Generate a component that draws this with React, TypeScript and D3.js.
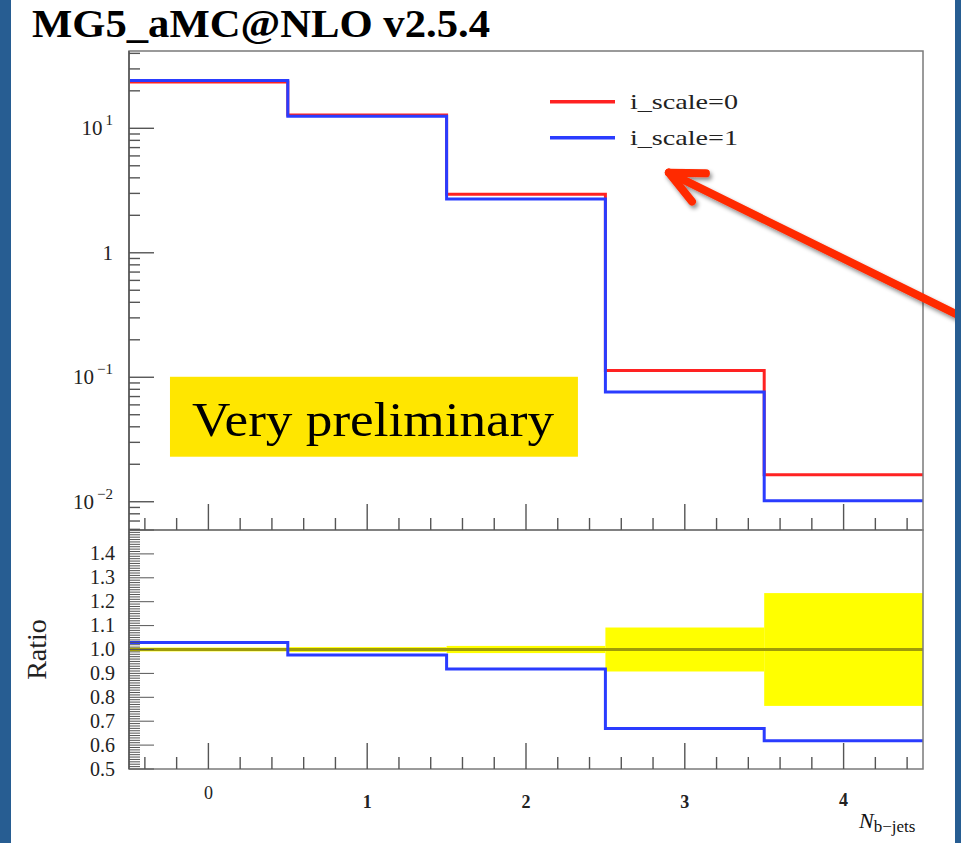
import React from "react";
import * as d3 from "d3";

// Jet-multiplicity distribution for two renormalisation-scale choices
const binCenters = [0, 1, 2, 3, 4];
const xsecScale0 = [23.5, 12.8, 2.95, 0.1135, 0.0165];
const xsecScale1 = [24.2, 12.5, 2.71, 0.076, 0.0102];
// half-width of the uncertainty band around ratio = 1, per bin
const bandHalfWidth = [0.008, 0.01, 0.015, 0.092, 0.236];

const seriesNames = ["i_scale=0", "i_scale=1"];
const xTickValues = [0, 1, 2, 3, 4];
const logTickLabels = [
  { v: 0.01, base: "10", exp: "\u22122" },
  { v: 0.1, base: "10", exp: "\u22121" },
  { v: 1, base: "1", exp: "" },
  { v: 10, base: "10", exp: "1" },
];
const ratioTickLabels = [0.5, 0.6, 0.7, 0.8, 0.9, 1.0, 1.1, 1.2, 1.3, 1.4];

const W = 961;
const H = 843;
const FONT = "'Liberation Serif', 'Times New Roman', serif";
const RED = "#ff2222";
const BLUE = "#2a3cff";
const BORDER = "#275d92";

const left = 129;
const right = 923;
const topY = 51;
const midY = 530;
const bottomY = 769;

// vertical nudges of the x tick labels
const xTickLabelDy = [-9, 0, 0, 0, -2];

export default function App() {
  const x = d3.scaleLinear().domain([-0.5, 4.5]).range([left, right]);
  const y = d3
    .scaleLog()
    .domain([Math.pow(10, -2.227), Math.pow(10, 1.621)])
    .range([midY, topY]);
  const r = d3.scaleLinear().domain([0.5, 1.5]).range([bottomY, midY]);

  const edges = binCenters.map((c) => c - 0.5).concat([binCenters[binCenters.length - 1] + 0.5]);
  const stepPoints = (vals: number[]) =>
    edges.map((e, i) => [e, vals[Math.min(i, vals.length - 1)]] as [number, number]);

  const upperLine = d3
    .line<[number, number]>()
    .x((d) => x(d[0]))
    .y((d) => y(d[1]))
    .curve(d3.curveStepAfter);
  const ratioLine = d3
    .line<[number, number]>()
    .x((d) => x(d[0]))
    .y((d) => r(d[1]))
    .curve(d3.curveStepAfter);

  const ratio1 = xsecScale1.map((v, i) => v / xsecScale0[i]);

  // x ticks every 0.2, majors on integers
  const xTicks = d3.range(-0.4, 4.5, 0.2).map((v) => Math.round(v * 10) / 10);

  // log minor ticks
  const logTicks: { v: number; major: boolean }[] = [];
  const [ylo, yhi] = y.domain();
  for (let dec = -3; dec <= 1; dec++) {
    for (let m = 1; m <= 9; m++) {
      const v = m * Math.pow(10, dec);
      if (v >= ylo && v <= yhi) logTicks.push({ v, major: m === 1 });
    }
  }

  const ratioTicks = d3.range(0, 101).map((i) => ({
    v: 0.5 + i * 0.01,
    major: i % 10 === 0,
  }));

  // annotation arrow (data coordinates of tip and tail)
  const tip = [x(2.9), y(4.4)];
  const tail = [x(4.78), y(0.29)];
  const ang = Math.atan2(tail[1] - tip[1], tail[0] - tip[0]);
  const barbLen = 37;
  const barbA = 0.44;
  const b1 = [tip[0] + barbLen * Math.cos(ang - barbA), tip[1] + barbLen * Math.sin(ang - barbA)];
  const b2 = [tip[0] + barbLen * Math.cos(ang + barbA), tip[1] + barbLen * Math.sin(ang + barbA)];

  const axisColor = "#7a7a7a";
  const tickColor = "#555";

  return (
    <svg
      width={W}
      height={H}
      style={{ position: "absolute", left: 0, top: 0, fontFamily: FONT }}
    >
      <defs>
        <filter id="arrowShadow" x="-20%" y="-20%" width="140%" height="140%">
          <feDropShadow dx="2" dy="3" stdDeviation="2" floodColor="#000" floodOpacity="0.45" />
        </filter>
      </defs>
      <rect x={0} y={0} width={W} height={H} fill="#fff" />

      {/* title */}
      <text x={32} y={37} fontSize={41} fontWeight="bold" fill="#000" textLength={458} lengthAdjust="spacingAndGlyphs">
        MG5_aMC@NLO v2.5.4
      </text>

      {/* ratio uncertainty band */}
      {binCenters.map((c, i) => (
        <rect
          key={"band" + i}
          x={x(c - 0.5)}
          width={x(c + 0.5) - x(c - 0.5)}
          y={r(1 + bandHalfWidth[i])}
          height={r(1 - bandHalfWidth[i]) - r(1 + bandHalfWidth[i])}
          fill="#ffff00"
        />
      ))}
      <line x1={left} x2={right} y1={r(1)} y2={r(1)} stroke="#a09c08" strokeWidth={3} />
      <path d={ratioLine(stepPoints(ratio1)) || ""} fill="none" stroke={BLUE} strokeWidth={3} />

      {/* main histograms */}
      <path d={upperLine(stepPoints(xsecScale0)) || ""} fill="none" stroke={RED} strokeWidth={3} />
      <path d={upperLine(stepPoints(xsecScale1)) || ""} fill="none" stroke={BLUE} strokeWidth={3} />

      {/* frames */}
      <rect x={left} y={topY} width={right - left} height={midY - topY} fill="none" stroke={axisColor} strokeWidth={1.5} />
      <rect x={left} y={midY} width={right - left} height={bottomY - midY} fill="none" stroke={axisColor} strokeWidth={1.5} />
      <line x1={left} x2={left} y1={topY} y2={bottomY} stroke="#666" strokeWidth={2} />

      {/* x ticks on both panels */}
      {[midY, bottomY].map((base) =>
        xTicks.map((t) => {
          const major = Math.abs(t - Math.round(t)) < 1e-6;
          return (
            <line
              key={"xt" + base + "_" + t}
              x1={x(t)}
              x2={x(t)}
              y1={base}
              y2={base - (major ? 26 : 12)}
              stroke={tickColor}
              strokeWidth={1.4}
            />
          );
        })
      )}

      {/* upper y ticks */}
      {logTicks.map((t, i) => (
        <line
          key={"yt" + i}
          x1={left}
          x2={left + (t.major ? 25 : 11)}
          y1={y(t.v)}
          y2={y(t.v)}
          stroke={tickColor}
          strokeWidth={1.4}
        />
      ))}
      {logTickLabels.map((t) => (
        <text key={"yl" + t.v} x={113} y={y(t.v) + 7} fontSize={21} textAnchor="end" fill="#222">
          {t.base}
          {t.exp && (
            <tspan fontSize={15} dy={-10}>
              {"\u2009" + t.exp}
            </tspan>
          )}
        </text>
      ))}

      {/* ratio y ticks */}
      {ratioTicks.map((t, i) => (
        <line
          key={"rt" + i}
          x1={left}
          x2={left + (t.major ? 25 : 11)}
          y1={r(t.v)}
          y2={r(t.v)}
          stroke={tickColor}
          strokeWidth={1}
        />
      ))}
      {ratioTickLabels.map((v) => (
        <text key={"rl" + v} x={115} y={r(v) + 6.5} fontSize={20} textAnchor="end" fill="#222">
          {d3.format(".1f")(v)}
        </text>
      ))}
      <text
        transform={`translate(46, ${r(1)}) rotate(-90)`}
        fontSize={28}
        textAnchor="middle"
        fill="#222"
      >
        Ratio
      </text>

      {/* x tick labels */}
      {xTickValues.map((v, i) => (
        <text
          key={"xl" + v}
          x={x(v)}
          y={808 + xTickLabelDy[i]}
          fontSize={18}
          fontWeight={i === 0 ? "normal" : "bold"}
          textAnchor="middle"
          fill="#222"
        >
          {v}
        </text>
      ))}
      <text x={859} y={828} fontSize={22} fill="#111">
        <tspan fontStyle="italic">N</tspan>
        <tspan fontSize={17} dy={4}>b{"\u2212"}jets</tspan>
      </text>

      {/* legend */}
      {seriesNames.map((name, i) => (
        <g key={name} transform={`translate(550, ${101.7 + i * 36})`}>
          <line x1={0} x2={65} y1={0} y2={0} stroke={i === 0 ? RED : BLUE} strokeWidth={3.5} />
          <text x={80} y={7.5} fontSize={22} textLength={108} lengthAdjust="spacingAndGlyphs" fill="#222">
            {name}
          </text>
        </g>
      ))}

      {/* preliminary badge */}
      <rect
        x={x(-0.242)}
        y={y(0.1009)}
        width={x(2.327) - x(-0.242)}
        height={y(0.023) - y(0.1009)}
        fill="#ffe600"
      />
      <text x={192} y={436} fontSize={49} textLength={362} lengthAdjust="spacingAndGlyphs" fill="#000">
        Very preliminary
      </text>

      {/* annotation arrow */}
      <g filter="url(#arrowShadow)" stroke="#ff2a00" strokeWidth={8} strokeLinecap="round" fill="none">
        <line x1={tail[0]} y1={tail[1]} x2={tip[0]} y2={tip[1]} />
        <line x1={tip[0]} y1={tip[1]} x2={b1[0]} y2={b1[1]} />
        <line x1={tip[0]} y1={tip[1]} x2={b2[0]} y2={b2[1]} />
      </g>

      {/* slide border strips */}
      <rect x={0} y={0} width={11} height={H} fill={BORDER} />
      <rect x={955} y={0} width={W - 955} height={H} fill={BORDER} />
    </svg>
  );
}
